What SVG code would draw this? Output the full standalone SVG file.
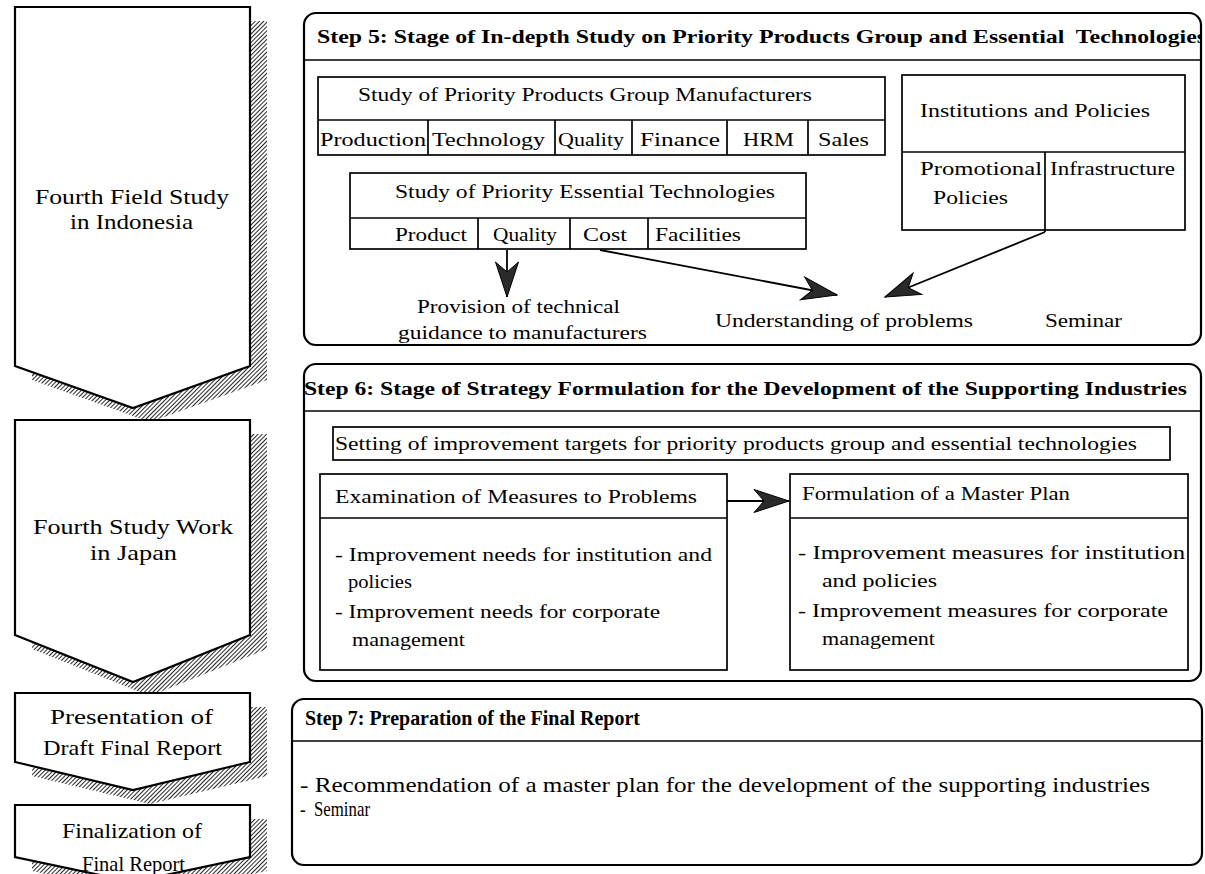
<svg xmlns="http://www.w3.org/2000/svg" width="1205" height="874" viewBox="0 0 1205 874">
  <defs>
    <style>
      .t { font-family: "Liberation Serif", "Times New Roman", serif; font-size: 19px; fill: #000; }
      .b { font-weight: bold; font-size: 18px; }
      .c { font-size: 21px; }
      .s7 { font-size: 21px; }
      .frame { fill: #fff; stroke: #000; stroke-width: 2.2; }
      .box { fill: none; stroke: #000; stroke-width: 1.7; }
      .rule { stroke: #000; stroke-width: 1.7; fill: none; }
      .chev { fill: #fff; stroke: #000; stroke-width: 2.2; stroke-linejoin: miter; }
      .shadow { fill: url(#hatch); stroke: none; }
      .conn { stroke: #000; stroke-width: 1.8; fill: none; marker-end: url(#head); }
    </style>
    <pattern id="hatch" width="3" height="3" patternUnits="userSpaceOnUse" patternTransform="rotate(45)">
      <rect width="3" height="3" fill="#fff"/>
      <line x1="0" y1="0" x2="0" y2="3" stroke="#000" stroke-width="1.7"/>
    </pattern>
    <marker id="head" viewBox="-37 -13 39 26" refX="0" refY="0" markerWidth="39" markerHeight="26" markerUnits="userSpaceOnUse" orient="auto">
      <path d="M0,0 L-35,-11.5 L-25,0 L-35,11.5 Z" fill="#2a2a2a" stroke="#000" stroke-width="1"/>
    </marker>
    <clipPath id="clip5">
      <rect x="304" y="13" width="897" height="332" rx="12"/>
    </clipPath>
  </defs>

  <!-- Schedule column: chevrons with hatched drop shadows -->
  <g id="phase-field-study">
    <path class="shadow" d="M32,21 H267 V380 L150,422 L32,380 Z"/>
    <path class="chev" d="M15,7 H250 V366 L133,408 L15,366 Z"/>
    <text class="t c" x="35" y="204" textLength="194" lengthAdjust="spacingAndGlyphs">Fourth Field Study</text>
    <text class="t c" x="70" y="229" textLength="123" lengthAdjust="spacingAndGlyphs">in Indonesia</text>
  </g>
  <g id="phase-japan-work">
    <path class="shadow" d="M32,434 H267 V649 L150,696 L32,649 Z"/>
    <path class="chev" d="M15,420 H250 V635 L133,682 L15,635 Z"/>
    <text class="t c" x="33" y="534" textLength="200" lengthAdjust="spacingAndGlyphs">Fourth Study Work</text>
    <text class="t c" x="90" y="560" textLength="87" lengthAdjust="spacingAndGlyphs">in Japan</text>
  </g>
  <g id="phase-draft-report">
    <path class="shadow" d="M32,707 H267 V776 L150,804 L32,776 Z"/>
    <path class="chev" d="M15,693 H250 V762 L133,790 L15,762 Z"/>
    <text class="t c" x="50" y="724" textLength="163" lengthAdjust="spacingAndGlyphs">Presentation of</text>
    <text class="t c" x="43" y="755" textLength="179" lengthAdjust="spacingAndGlyphs">Draft Final Report</text>
  </g>
  <g id="phase-final-report">
    <path class="shadow" d="M32,819 H267 V871 L150,896 L32,871 Z"/>
    <path class="chev" d="M15,805 H250 V857 L133,882 L15,857 Z"/>
    <text class="t c" x="62" y="838" textLength="140" lengthAdjust="spacingAndGlyphs">Finalization of</text>
    <text class="t c" x="82" y="871" textLength="103" lengthAdjust="spacingAndGlyphs">Final Report</text>
  </g>

  <!-- Step 5 -->
  <g id="step5">
    <rect class="frame" x="304" y="13" width="897" height="332" rx="12"/>
    <line class="rule" x1="304" y1="60" x2="1201" y2="60"/>
    <text class="t b" x="317" y="43" textLength="889" lengthAdjust="spacingAndGlyphs" clip-path="url(#clip5)" style="white-space:pre">Step 5: Stage of In-depth Study on Priority Products Group and Essential  Technologies</text>
  </g>
  <g id="manufacturers">
    <rect class="box" x="318" y="77" width="567" height="78"/>
    <line class="rule" x1="318" y1="120" x2="885" y2="120"/>
    <path class="rule" d="M428,120 V155 M555,120 V155 M632,120 V155 M727,120 V155 M808,120 V155"/>
    <text class="t" x="358" y="101" textLength="454" lengthAdjust="spacingAndGlyphs">Study of Priority Products Group Manufacturers</text>
    <text class="t" x="320" y="146" textLength="106" lengthAdjust="spacingAndGlyphs">Production</text>
    <text class="t" x="432" y="146" textLength="113" lengthAdjust="spacingAndGlyphs">Technology</text>
    <text class="t" x="558" y="146" textLength="66" lengthAdjust="spacingAndGlyphs">Quality</text>
    <text class="t" x="640" y="146" textLength="80" lengthAdjust="spacingAndGlyphs">Finance</text>
    <text class="t" x="743" y="146" textLength="51" lengthAdjust="spacingAndGlyphs">HRM</text>
    <text class="t" x="818" y="146" textLength="51" lengthAdjust="spacingAndGlyphs">Sales</text>
  </g>
  <g id="essential-tech">
    <rect class="box" x="350" y="173" width="456" height="76"/>
    <line class="rule" x1="350" y1="218" x2="806" y2="218"/>
    <path class="rule" d="M478,218 V249 M570,218 V249 M648,218 V249"/>
    <text class="t" x="395" y="198" textLength="380" lengthAdjust="spacingAndGlyphs">Study of Priority Essential Technologies</text>
    <text class="t" x="395" y="241" textLength="72" lengthAdjust="spacingAndGlyphs">Product</text>
    <text class="t" x="493" y="241" textLength="64" lengthAdjust="spacingAndGlyphs">Quality</text>
    <text class="t" x="583" y="241" textLength="44" lengthAdjust="spacingAndGlyphs">Cost</text>
    <text class="t" x="655" y="241" textLength="86" lengthAdjust="spacingAndGlyphs">Facilities</text>
  </g>
  <g id="institutions">
    <rect class="box" x="902" y="75" width="283" height="155"/>
    <line class="rule" x1="902" y1="152" x2="1185" y2="152"/>
    <line class="rule" x1="1045" y1="152" x2="1045" y2="232"/>
    <text class="t" x="920" y="117" textLength="230" lengthAdjust="spacingAndGlyphs">Institutions and Policies</text>
    <text class="t" x="920" y="175" textLength="122" lengthAdjust="spacingAndGlyphs">Promotional</text>
    <text class="t" x="933" y="204" textLength="75" lengthAdjust="spacingAndGlyphs">Policies</text>
    <text class="t" x="1050" y="175" textLength="125" lengthAdjust="spacingAndGlyphs">Infrastructure</text>
  </g>
  <g id="guidance">
    <text class="t" x="417" y="313" textLength="203" lengthAdjust="spacingAndGlyphs">Provision of technical</text>
    <text class="t" x="398" y="339" textLength="249" lengthAdjust="spacingAndGlyphs">guidance to manufacturers</text>
  </g>
  <g id="problems">
    <text class="t" x="715" y="327" textLength="258" lengthAdjust="spacingAndGlyphs">Understanding of problems</text>
  </g>
  <g id="seminar5">
    <text class="t" x="1045" y="327" textLength="77" lengthAdjust="spacingAndGlyphs">Seminar</text>
  </g>

  <!-- Step 6 -->
  <g id="step6">
    <rect class="frame" x="304" y="364" width="897" height="317" rx="12"/>
    <line class="rule" x1="304" y1="411" x2="1201" y2="411"/>
    <text class="t b" x="304" y="395" textLength="883" lengthAdjust="spacingAndGlyphs">Step 6: Stage of Strategy Formulation for the Development of the Supporting Industries</text>
  </g>
  <g id="targets">
    <rect class="box" x="333" y="427" width="837" height="33"/>
    <text class="t" x="335" y="450" textLength="802" lengthAdjust="spacingAndGlyphs">Setting of improvement targets for priority products group and essential technologies</text>
  </g>
  <g id="examination">
    <rect class="box" x="320" y="474" width="407" height="196"/>
    <line class="rule" x1="320" y1="518" x2="727" y2="518"/>
    <text class="t" x="335" y="503" textLength="362" lengthAdjust="spacingAndGlyphs">Examination of Measures to Problems</text>
    <text class="t" x="335" y="561" textLength="377" lengthAdjust="spacingAndGlyphs">- Improvement needs for institution and</text>
    <text class="t" x="348" y="588" textLength="64" lengthAdjust="spacingAndGlyphs">policies</text>
    <text class="t" x="335" y="618" textLength="325" lengthAdjust="spacingAndGlyphs">- Improvement needs for corporate</text>
    <text class="t" x="352" y="646" textLength="113" lengthAdjust="spacingAndGlyphs">management</text>
  </g>
  <g id="master-plan">
    <rect class="box" x="790" y="474" width="398" height="196"/>
    <line class="rule" x1="790" y1="518" x2="1188" y2="518"/>
    <text class="t" x="802" y="500" textLength="268" lengthAdjust="spacingAndGlyphs">Formulation of a Master Plan</text>
    <text class="t" x="798" y="559" textLength="387" lengthAdjust="spacingAndGlyphs">- Improvement measures for institution</text>
    <text class="t" x="822" y="587" textLength="115" lengthAdjust="spacingAndGlyphs">and policies</text>
    <text class="t" x="798" y="617" textLength="370" lengthAdjust="spacingAndGlyphs">- Improvement measures for corporate</text>
    <text class="t" x="822" y="645" textLength="113" lengthAdjust="spacingAndGlyphs">management</text>
  </g>

  <!-- Step 7 -->
  <g id="step7">
    <rect class="frame" x="292" y="699" width="910" height="166" rx="12"/>
    <line class="rule" x1="292" y1="741" x2="1202" y2="741"/>
    <text class="t b" x="305" y="725" style="font-size:22px" textLength="335" lengthAdjust="spacingAndGlyphs">Step 7: Preparation of the Final Report</text>
    <text class="t s7" x="300" y="792" textLength="850" lengthAdjust="spacingAndGlyphs">- Recommendation of a master plan for the development of the supporting industries</text>
    <text class="t s7" x="300" y="816" textLength="70" lengthAdjust="spacingAndGlyphs" style="white-space:pre">-  Seminar</text>
  </g>

  <!-- Connectors -->
  <g id="connectors">
    <line class="conn" x1="507" y1="250" x2="507" y2="297"/>
    <line class="conn" x1="600" y1="250" x2="837" y2="295"/>
    <line class="conn" x1="1045" y1="232" x2="885" y2="297"/>
    <line class="conn" x1="727" y1="501" x2="789" y2="501"/>
  </g>
</svg>
